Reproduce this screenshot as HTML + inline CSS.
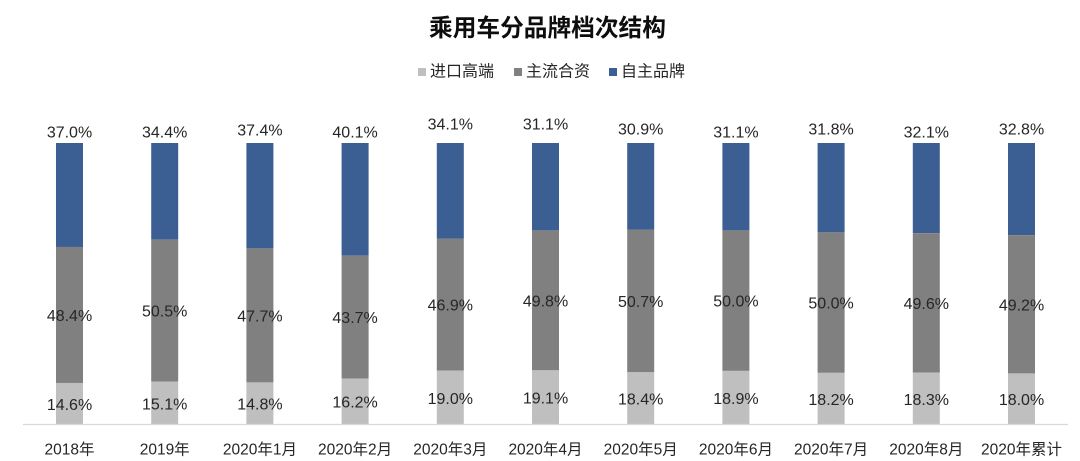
<!DOCTYPE html>
<html>
<head>
<meta charset="utf-8">
<style>
html,body{margin:0;padding:0;background:#fff;}
svg{display:block;}
text{font-family:"Liberation Sans","Noto Sans CJK SC",sans-serif;fill:#262626;}
</style>
</head>
<body>
<svg width="1080" height="461" viewBox="0 0 1080 461" xmlns="http://www.w3.org/2000/svg">
<rect width="1080" height="461" fill="#fff"/>
<text x="547.5" y="29" text-anchor="middle" dominant-baseline="central" font-size="23.7" font-weight="bold" fill="#0d0d0d" style="fill:#0d0d0d">乘用车分品牌档次结构</text>

<!-- legend -->
<rect x="418" y="68" width="8" height="8" fill="#bfbfbf"/>
<text x="430" y="72" dominant-baseline="central" font-size="16">进口高端</text>
<rect x="514" y="68" width="8" height="8" fill="#808080"/>
<text x="526" y="72" dominant-baseline="central" font-size="16">主流合资</text>
<rect x="609" y="68" width="8" height="8" fill="#3b5f92"/>
<text x="621" y="72" dominant-baseline="central" font-size="16">自主品牌</text>

<g id="bars"></g>
<line x1="23" y1="424.5" x2="1068" y2="424.5" stroke="#d9d9d9" stroke-width="1.2"/>
<g id="labels"></g>
</svg>
<script>
(function(){
var data=[
["2018年",14.6,48.4,37.0,133],
["2019年",15.1,50.5,34.4,133],
["2020年1月",14.8,47.7,37.4,131],
["2020年2月",16.2,43.7,40.1,133],
["2020年3月",19.0,46.9,34.1,125],
["2020年4月",19.1,49.8,31.1,125],
["2020年5月",18.4,50.7,30.9,130],
["2020年6月",18.9,50.0,31.1,133],
["2020年7月",18.2,50.0,31.8,130],
["2020年8月",18.3,49.6,32.1,133],
["2020年累计",18.0,49.2,32.8,130]
];
var NS="http://www.w3.org/2000/svg";
var bars=document.getElementById("bars"),labels=document.getElementById("labels");
function rect(x,y,w,h,f){var r=document.createElementNS(NS,"rect");r.setAttribute("x",x);r.setAttribute("y",y);r.setAttribute("width",w);r.setAttribute("height",h);r.setAttribute("fill",f);bars.appendChild(r);}
function txt(x,y,s,fs){var t=document.createElementNS(NS,"text");t.setAttribute("x",x);t.setAttribute("y",y);t.setAttribute("text-anchor","middle");t.setAttribute("dominant-baseline","central");t.setAttribute("font-size",fs);t.textContent=s;labels.appendChild(t);}
var top=143,bot=424,H=bot-top,k=H/100,w=27;
data.forEach(function(d,i){
  var cx=69.5+95.2*i,x=cx-w/2;
  var lh=d[1]*k,gh=d[2]*k;
  var ly=bot-lh,gy=ly-gh;
  rect(x,top,w,gy-top,"#3b5f92");
  rect(x,gy,w,gh,"#808080");
  rect(x,ly,w,lh,"#bfbfbf");
  txt(cx,d[4],d[3].toFixed(1)+"%",16);
  txt(cx,(gy+ly)/2+1.5,d[2].toFixed(1)+"%",16);
  txt(cx,(ly+bot)/2+2,d[1].toFixed(1)+"%",16);
  txt(cx,450,d[0],15.5);
});
})();
</script>
</body>
</html>
